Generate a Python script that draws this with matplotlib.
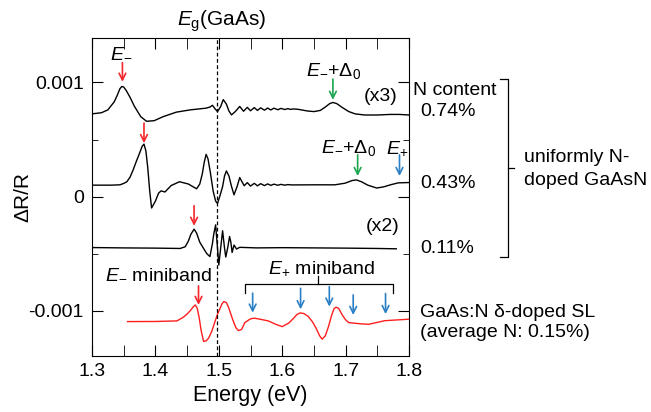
import numpy as np
import matplotlib
matplotlib.use("Agg")
import matplotlib.pyplot as plt

plt.rcParams['font.family'] = ['Liberation Sans', 'DejaVu Sans']
plt.rcParams['font.size'] = 14
plt.rcParams['mathtext.fontset'] = 'custom'
plt.rcParams['mathtext.rm'] = 'Liberation Sans'
plt.rcParams['mathtext.it'] = 'Liberation Sans:italic'

# dR/R in units of 1e-3, energies in eV
e_074 = [1.300, 1.315, 1.325, 1.335, 1.340, 1.344, 1.347, 1.350, 1.354, 1.360, 1.367, 1.377,
         1.386, 1.398, 1.412, 1.433, 1.455, 1.480, 1.486, 1.490, 1.494, 1.498, 1.503, 1.507,
         1.512, 1.516, 1.520, 1.526, 1.533, 1.539, 1.545, 1.550, 1.556, 1.561, 1.566, 1.572,
         1.577, 1.582, 1.587, 1.593, 1.598, 1.604, 1.609, 1.613, 1.617, 1.625, 1.640, 1.650,
         1.660, 1.668, 1.675, 1.680, 1.686, 1.695, 1.705, 1.715, 1.730, 1.750, 1.770, 1.785, 1.800]
r_074 = [0.725, 0.735, 0.76, 0.83, 0.89, 0.945, 0.965, 0.96, 0.93, 0.87, 0.79, 0.70,
         0.66, 0.665, 0.70, 0.74, 0.76, 0.775, 0.785, 0.80, 0.77, 0.745, 0.79, 0.85,
         0.81, 0.75, 0.716, 0.745, 0.79, 0.748, 0.782, 0.752, 0.78, 0.755, 0.778, 0.757,
         0.776, 0.759, 0.775, 0.761, 0.773, 0.763, 0.771, 0.764, 0.768, 0.765, 0.75, 0.745,
         0.755, 0.785, 0.815, 0.825, 0.815, 0.78, 0.745, 0.725, 0.715, 0.715, 0.72, 0.72, 0.715]

e_043 = [1.300, 1.330, 1.344, 1.350, 1.355, 1.360, 1.365, 1.370, 1.375, 1.379, 1.382, 1.385,
         1.388, 1.391, 1.394, 1.397, 1.400, 1.405, 1.409, 1.415, 1.425, 1.438, 1.452, 1.465,
         1.470, 1.474, 1.477, 1.480, 1.483, 1.487, 1.491, 1.495, 1.498, 1.502, 1.506, 1.509,
         1.512, 1.516, 1.520, 1.524, 1.529, 1.533, 1.540, 1.545, 1.550, 1.556, 1.561, 1.566,
         1.572, 1.577, 1.582, 1.587, 1.593, 1.598, 1.604, 1.609, 1.615, 1.650, 1.683, 1.699,
         1.710, 1.717, 1.725, 1.735, 1.749, 1.760, 1.772, 1.783, 1.800]
r_043 = [0.10, 0.10, 0.103, 0.115, 0.13, 0.17, 0.235, 0.31, 0.38, 0.44, 0.46, 0.40,
         0.25, 0.05, -0.10, -0.07, -0.04, 0.03, 0.05, 0.04, 0.097, 0.13, 0.11, 0.068,
         0.11, 0.20, 0.30, 0.37, 0.33, 0.20, 0.05, -0.04, -0.06, 0.01, 0.088, 0.18,
         0.225, 0.18, 0.09, 0.015, 0.09, 0.167, 0.095, 0.122, 0.092, 0.116, 0.094, 0.113,
         0.096, 0.111, 0.098, 0.109, 0.099, 0.107, 0.10, 0.105, 0.102, 0.103, 0.103, 0.117,
         0.14, 0.146, 0.13, 0.10, 0.075, 0.085, 0.105, 0.12, 0.123]

e_011 = [1.300, 1.350, 1.400, 1.439, 1.447, 1.452, 1.456, 1.461, 1.465, 1.470, 1.476, 1.481,
         1.486, 1.490, 1.492, 1.495, 1.4975, 1.500, 1.503, 1.506, 1.509, 1.511, 1.514, 1.517,
         1.519, 1.521, 1.524, 1.528, 1.533, 1.560, 1.600, 1.650, 1.700, 1.750, 1.780]
r_011 = [-0.447, -0.45, -0.452, -0.455, -0.44, -0.39, -0.33, -0.286, -0.32, -0.40, -0.455, -0.50,
         -0.526, -0.41, -0.33, -0.248, -0.42, -0.60, -0.45, -0.30, -0.45, -0.53, -0.45, -0.35,
         -0.40, -0.49, -0.425, -0.46, -0.445, -0.45, -0.448, -0.45, -0.452, -0.455, -0.458]

e_sl = [1.356, 1.400, 1.434, 1.444, 1.450, 1.455, 1.460, 1.463, 1.466, 1.469, 1.472, 1.476,
        1.480, 1.484, 1.489, 1.494, 1.498, 1.502, 1.505, 1.508, 1.512, 1.515, 1.519, 1.522,
        1.527, 1.531, 1.536, 1.541, 1.545, 1.549, 1.553, 1.557, 1.565, 1.578, 1.590, 1.600,
        1.610, 1.618, 1.623, 1.628, 1.634, 1.641, 1.648, 1.654, 1.659, 1.663, 1.668, 1.673,
        1.678, 1.682, 1.685, 1.689, 1.695, 1.700, 1.705, 1.714, 1.723, 1.736, 1.762, 1.800]
r_sl = [-1.096, -1.095, -1.09, -1.058, -1.03, -1.00, -0.965, -0.95, -0.98, -1.06, -1.17, -1.27,
        -1.265, -1.24, -1.18, -1.096, -1.03, -0.98, -0.94, -0.92, -0.93, -0.965, -1.03, -1.08,
        -1.15, -1.175, -1.165, -1.105, -1.09, -1.075, -1.068, -1.067, -1.075, -1.09, -1.12, -1.14,
        -1.11, -1.067, -1.035, -1.02, -1.025, -1.05, -1.10, -1.16, -1.22, -1.25, -1.22, -1.14,
        -1.04, -0.98, -0.97, -0.98, -1.04, -1.08, -1.105, -1.11, -1.115, -1.12, -1.088, -1.075]

# arrows: (energy, start, tip)
red_arrows = [(1.348, 1.173, 1.006), (1.382, 0.644, 0.468), (1.461, -0.08, -0.257), (1.468, -0.783, -0.95)]
green_arrows = [(1.680, 1.03, 0.848), (1.719, 0.366, 0.18)]
blue_arrows = [(1.785, 0.366, 0.18), (1.5534, -0.847, -1.018), (1.629, -0.804, -0.988),
               (1.6743, -0.79, -0.965), (1.712, -0.862, -1.038), (1.763, -0.85, -1.03)]

RED = '#f4252b'
GREEN = '#1aa54e'
BLUE = '#2a7fc4'

fig = plt.figure(figsize=(6.51, 4.12), dpi=100)
ax = fig.add_axes([92 / 651, 1 - 355.7 / 412, 317 / 651, 317.7 / 412])

ax.plot(e_074, r_074, color='black', lw=1.0)
ax.plot(e_043, r_043, color='black', lw=1.0)
ax.plot(e_011, r_011, color='black', lw=1.0)
ax.plot(e_sl, r_sl, color='#ff1e1e', lw=1.0)

ax.axvline(1.497, color='black', lw=0.9, ls=(0, (3, 2)))

for group, col in [(red_arrows, RED), (green_arrows, GREEN), (blue_arrows, BLUE)]:
    for e, y0, y1 in group:
        ax.annotate('', xy=(e, y1), xytext=(e, y0),
                    arrowprops=dict(arrowstyle='->', color=col, lw=1.2, shrinkA=0, shrinkB=0,
                                    mutation_scale=12))

ax.text(1.4336, 1.497, r'$E_{\rm g}$(GaAs)', ha='left', va='baseline', fontsize=15)
ax.text(1.346, 1.222, r'$E_{-}$', ha='center', va='baseline')
ax.text(1.6817, 1.059, r'$E_{-}$+Δ$_{0}$', ha='center', va='baseline')
ax.text(1.7054, 0.38, r'$E_{-}$+Δ$_{0}$', ha='center', va='baseline')
ax.text(1.781, 0.38, r'$E_{+}$', ha='center', va='baseline')
ax.text(1.756, 0.877, '(x3)', ha='center', va='center')
ax.text(1.758, -0.263, '(x2)', ha='center', va='center')
ax.text(1.3205, -0.716, r'$E_{-}$ miniband', ha='left', va='baseline')
ax.text(1.578, -0.672, r'$E_{+}$ miniband', ha='left', va='baseline')

# E+ miniband bracket
ax.plot([1.541, 1.541, 1.774, 1.774], [-0.847, -0.765, -0.765, -0.847], color='black', lw=0.9)
ax.plot([1.657, 1.657], [-0.765, -0.70], color='black', lw=0.9)

# right-hand labels
ax.text(1.8063, 0.892, 'N content', ha='left', va='baseline')
ax.text(1.8174, 0.702, '0.74%', ha='left', va='baseline')
ax.text(1.8174, 0.074, '0.43%', ha='left', va='baseline')
ax.text(1.8174, -0.497, '0.11%', ha='left', va='baseline')
ax.text(1.9814, 0.307, 'uniformly N-', ha='left', va='baseline')
ax.text(1.9814, 0.103, 'doped GaAsN', ha='left', va='baseline')
ax.text(1.8174, -1.06, 'GaAs:N δ-doped SL', ha='left', va='baseline')
ax.text(1.8174, -1.228, '(average N: 0.15%)', ha='left', va='baseline')
ax.plot([1.9435, 1.9566, 1.9566, 1.9435], [1.030, 1.030, -0.532, -0.532], color='black', lw=0.9, clip_on=False)
ax.plot([1.9566, 1.9656], [0.249, 0.249], color='black', lw=0.9, clip_on=False)

ax.set_xlim(1.3, 1.8)
ax.set_ylim(-1.395, 1.39)
ax.set_xticks([1.3, 1.4, 1.5, 1.6, 1.7, 1.8])
ax.set_xticks([1.35, 1.45, 1.55, 1.65, 1.75], minor=True)
ax.set_yticks([-1, 0, 1])
ax.set_yticklabels(['-0.001', '0', '0.001'])
ax.set_yticks([-0.5, 0.5], minor=True)
ax.tick_params(axis='both', which='both', direction='in', top=True, right=True, labelsize=14)
ax.tick_params(axis='x', which='both', length=8, pad=5)
ax.tick_params(axis='y', which='major', length=8, pad=6)
ax.tick_params(axis='y', which='minor', length=4)
ax.set_xlabel('Energy (eV)', fontsize=15.5, labelpad=4)
ax.set_ylabel('ΔR/R', fontsize=15, labelpad=-3)

fig.savefig('out.png', dpi=100)
